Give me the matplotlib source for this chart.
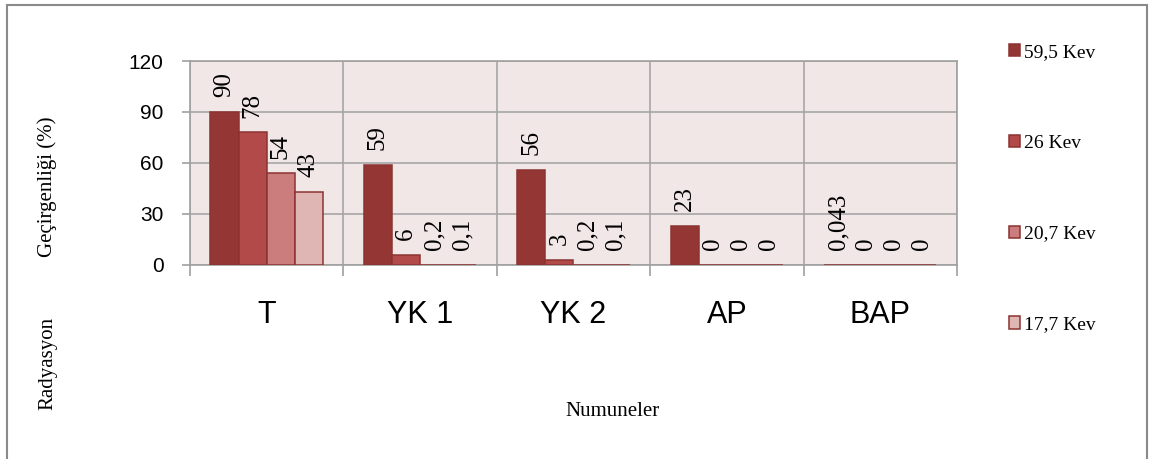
import matplotlib.pyplot as plt
from matplotlib.patches import Rectangle

# data
samples = ["T", "YK 1", "YK 2", "AP", "BAP"]
series = ["59,5 Kev", "26 Kev", "20,7 Kev", "17,7 Kev"]
kev_59_5 = [90, 59, 56, 23, 0.043]
kev_26 = [78, 6, 3, 0, 0]
kev_20_7 = [54, 0.2, 0.2, 0, 0]
kev_17_7 = [43, 0.1, 0.1, 0, 0]
colors = ["#943634", "#b14a49", "#ca7d7c", "#e0b6b5"]

values = [kev_59_5, kev_26, kev_20_7, kev_17_7]

fig = plt.figure(figsize=(11.51, 4.59), dpi=100)
ax = fig.add_axes([0.165, 0.4227, 0.6665, 0.4444])
ax.set_facecolor("#f2e7e7")

w = 0.183
handles = []
for j, vals in enumerate(values):
    xs = [i + (j - 1.5) * w for i in range(len(samples))]
    b = ax.bar(xs, vals, width=w, color=colors[j], edgecolor="#8c3331",
               linewidth=1.1, label=series[j], zorder=3)
    handles.append(b)
    for x, v in zip(xs, vals):
        txt = ("%g" % v).replace(".", ",")
        ax.annotate(txt, (x, v), xytext=(0, 10.5), textcoords="offset points",
                    rotation=90, ha="center", va="bottom",
                    family="Liberation Serif", fontsize=18, zorder=4)

ax.set_xlim(-0.5, 4.5)
ax.set_ylim(0, 120)
ax.set_yticks([0, 30, 60, 90, 120])
ax.set_xticks([i - 0.5 for i in range(6)])
ax.set_xticklabels([])
ax.set_xticks(range(5), minor=True)
ax.set_xticklabels(samples, minor=True, family="Liberation Sans", fontsize=22)
ax.tick_params(axis="x", which="minor", length=0, pad=25)
ax.tick_params(axis="x", which="major", length=8, color="#a0a0a0", width=1.2)
ax.tick_params(axis="y", length=6, color="#a0a0a0", width=1.2, pad=13,
               labelsize=15)
for t in ax.get_yticklabels():
    t.set_family("Liberation Sans")
ax.grid(True, color="#a6a6a6", linewidth=1.2, zorder=1)
ax.set_axisbelow(True)
for s in ax.spines.values():
    s.set_color("#a0a0a0")
    s.set_linewidth(1.2)

fig.text(47 / 1151, 1 - 187 / 459, "Geçirgenliği (%)", rotation=90,
         ha="center", va="center", family="Liberation Serif", fontsize=15)
fig.text(48 / 1151, 1 - 363 / 459, "Radyasyon", rotation=90,
         ha="center", va="center", family="Liberation Serif", fontsize=15)
fig.text(612 / 1151, 1 - 411 / 459, "Numuneler", ha="center", va="center",
         family="Liberation Serif", fontsize=15)

fig.legend(handles=handles, loc="upper left",
           bbox_to_anchor=(999 / 1151, 1 - 34 / 459), frameon=False,
           prop={"family": "Liberation Serif", "size": 14},
           handlelength=0.6, handleheight=0.6, handletextpad=0.2,
           labelspacing=3.8, borderpad=0)

fig.patches.append(Rectangle((7 / 1151, -0.01), 1140 / 1151, 1 - 5 / 459 + 0.01,
                             transform=fig.transFigure, fill=False,
                             edgecolor="#8a8a8a", linewidth=1.5))

fig.savefig("out.png", dpi=100)
